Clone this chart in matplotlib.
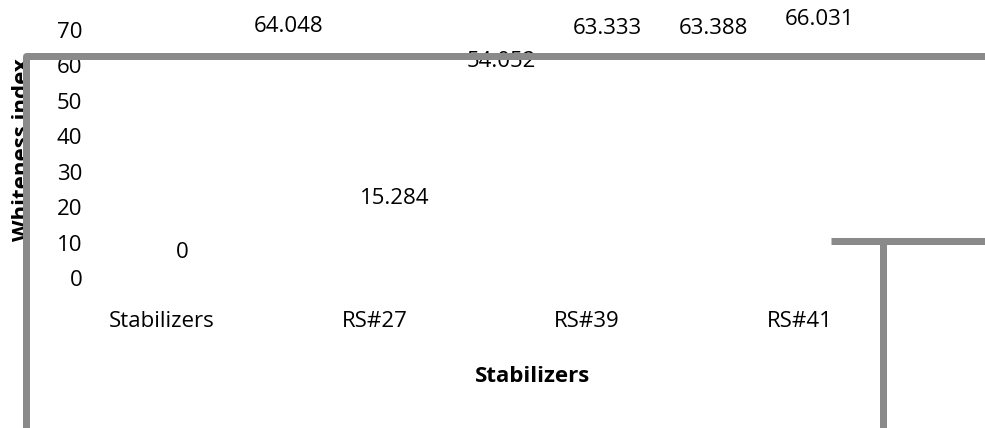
import numpy as np
import matplotlib
matplotlib.use("Agg")
import matplotlib.pyplot as plt
from matplotlib.lines import Line2D

# ---- data ----
values = [0, 64.048, 15.284, 54.052, 63.333, 63.388, 66.031]
value_labels = ["0", "64.048", "15.284", "54.052", "63.333", "63.388", "66.031"]
tick_labels = ["Stabilizers", "RS#27", "RS#39", "RS#41"]
y_ticks = [0, 10, 20, 30, 40, 50, 60, 70]
x_title = "Stabilizers"
y_title = "Whiteness index"

FONT = "Open Sans"
FS = 16
GRAY = "#8a8a8a"

W, H = 985, 428
fig = plt.figure(figsize=(W / 100, H / 100), dpi=100)
fig.patch.set_facecolor("white")

# axes: x=0 point at px 162, 106.3 px per step; y 0..70 -> px 278..30
left_px, right_px = 90, 887
ax = fig.add_axes([left_px / W, (H - 278) / H, (right_px - left_px) / W, 248 / H])
step = 106.3
ax.set_xlim(-(162 - left_px) / step, (right_px - 162) / step)
ax.set_ylim(0, 70)
for s in ax.spines.values():
    s.set_visible(False)
ax.set_facecolor("none")

xs = np.arange(len(values))
ax.set_xticks(xs[::2])
ax.set_xticklabels(tick_labels, fontsize=FS, family=FONT)
ax.set_yticks(y_ticks)
ax.set_yticklabels([str(v) for v in y_ticks], fontsize=FS, family=FONT)
ax.tick_params(axis="x", length=0, pad=23.5)
ax.tick_params(axis="y", length=0, pad=5.5)

for x, v, lab in zip(xs, values, value_labels):
    ax.annotate(lab, (x, v), xytext=(20, 19.5), textcoords="offset pixels",
                ha="center", va="baseline", fontsize=FS, family=FONT,
                annotation_clip=False)

fig.text(533 / W, (H - 382) / H, x_title, ha="center", va="baseline",
         fontsize=FS, family=FONT, fontweight="bold")
fig.text(33 / W, (H - 150) / H, y_title, rotation=90, ha="right", va="center",
         fontsize=FS, family=FONT, fontweight="bold")

lw = 7 * 72 / 100


def px_line(xp, yp):
    ln = Line2D([x / W for x in xp], [(H - y) / H for y in yp], transform=fig.transFigure,
                color=GRAY, lw=lw, solid_joinstyle="round", solid_capstyle="butt",
                zorder=10)
    fig.add_artist(ln)


px_line([990, 25.5, 25.5], [55.5, 55.5, 432])
px_line([831, 990], [240.5, 240.5])
px_line([883, 883], [240.5, 432])

fig.savefig("out.png", dpi=100, facecolor="white")
